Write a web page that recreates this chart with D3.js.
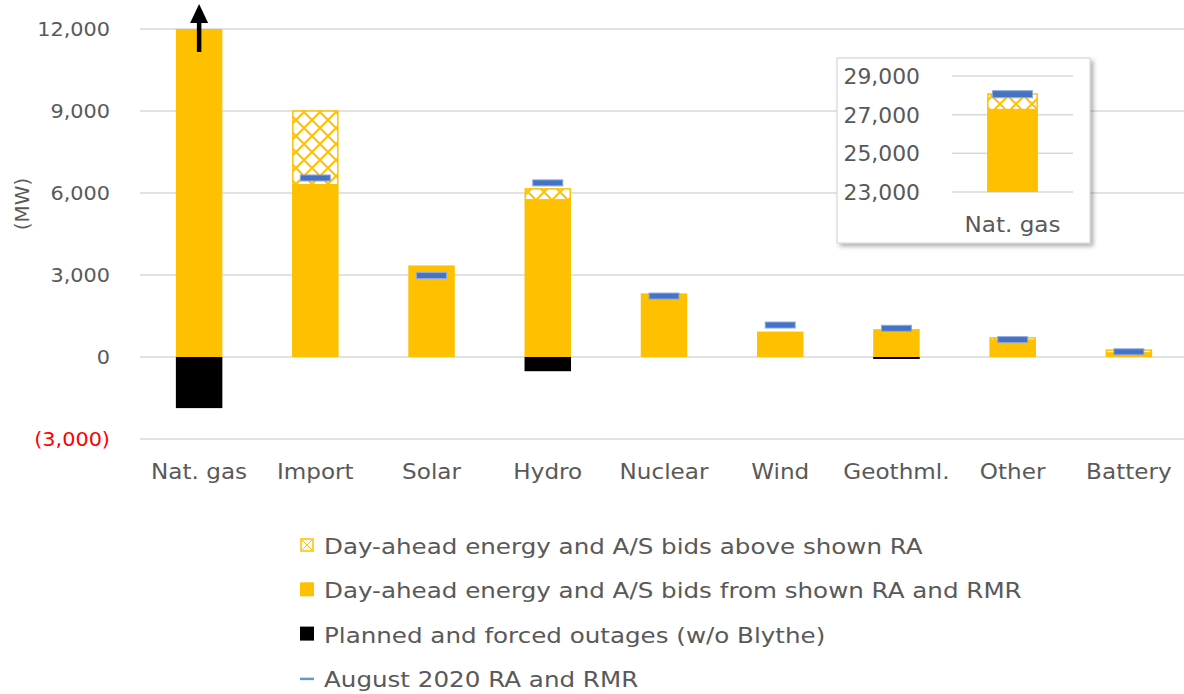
<!DOCTYPE html>
<html>
<head>
<meta charset="utf-8">
<script src="https://cdn.jsdelivr.net/npm/d3@7"></script>
<style>
  body { margin: 0; background: #fff; }
  text { font-family: "DejaVu Sans", sans-serif; fill: #595959; }
</style>
</head>
<body>
<script>
// ---- data (MW) ----
var categories = ["Nat. gas", "Import", "Solar", "Hydro", "Nuclear", "Wind", "Geothml.", "Other", "Battery"];
var shownRA   = [27260, 6300, 3350, 5750, 2250, 930, 1020, 620, 150];   // bids from shown RA and RMR
var aboveRA   = [810, 2700, 0, 400, 50, 0, 0, 80, 100];                 // bids above shown RA
var outages   = [-1870, 0, 0, -520, 0, 0, -60, 0, 0];                   // planned and forced outages
var raRMR     = [28060, 6550, 2980, 6370, 2230, 1170, 1050, 635, 190];  // August 2020 RA and RMR
var yTicks    = [-3000, 0, 3000, 6000, 9000, 12000];
var insetTicks = [23000, 25000, 27000, 29000];
var legendItems = [
  {key: "hatch", label: "Day-ahead energy and A/S bids above shown RA"},
  {key: "solid", label: "Day-ahead energy and A/S bids from shown RA and RMR"},
  {key: "out",   label: "Planned and forced outages (w/o Blythe)"},
  {key: "ra",    label: "August 2020 RA and RMR"}
];

var width = 1184, height = 694;
var yellow = "#FFC000", blue = "#4472C4", grid = "#D9D9D9";

// Century Gothic is wider than anything installed, so stretch text a bit
function widen(sel, k) {
  sel.each(function() {
    var w = this.getComputedTextLength();
    d3.select(this).attr("textLength", w * k).attr("lengthAdjust", "spacingAndGlyphs");
  });
}

var svg = d3.select("body").append("svg")
    .attr("width", width)
    .attr("height", height);

var defs = svg.append("defs");
var pat = defs.append("pattern")
    .attr("id", "hatch")
    .attr("patternUnits", "userSpaceOnUse")
    .attr("width", 16).attr("height", 16);
pat.append("rect").attr("width", 16).attr("height", 16).attr("fill", "#fff");
pat.append("path")
    .attr("d", "M0,0L16,16M16,0L0,16")
    .attr("stroke", yellow).attr("stroke-width", 2);

var filt = defs.append("filter").attr("id", "shadow")
    .attr("x", "-10%").attr("y", "-10%").attr("width", "130%").attr("height", "130%");
filt.append("feDropShadow").attr("dx", 3).attr("dy", 3).attr("stdDeviation", 2)
    .attr("flood-color", "#000").attr("flood-opacity", 0.3);

/* ============================ MAIN CHART ============================ */
var x = d3.scaleBand().domain(categories).range([141, 1187]).paddingInner(0.6).paddingOuter(0.3);
var y = d3.scaleLinear().domain([-3000, 12000]).range([439, 29]);
var yMax = 12000;

svg.append("g").selectAll("line").data(yTicks).enter().append("line")
    .attr("x1", 140).attr("x2", width)
    .attr("y1", d => y(d)).attr("y2", d => y(d))
    .attr("stroke", grid).attr("stroke-width", 1.5);

svg.append("g").selectAll("text").data(yTicks).enter().append("text")
    .attr("x", 110).attr("y", d => y(d) + 7)
    .attr("text-anchor", "end")
    .style("font-size", "20px")
    .style("fill", d => d < 0 ? "#FF0000" : "#595959")
    .text(d => d < 0 ? "(" + d3.format(",")(-d) + ")" : d3.format(",")(d))
    .call(widen, 1.04);

svg.append("text")
    .attr("transform", "translate(29," + y(5600) + ") rotate(-90)")
    .attr("text-anchor", "middle")
    .style("font-size", "20px")
    .text("(MW)");

var bars = svg.append("g");
categories.forEach(function(c, i) {
  var s = Math.min(shownRA[i], yMax);
  bars.append("rect")
      .attr("x", x(c)).attr("width", x.bandwidth())
      .attr("y", y(s)).attr("height", y(0) - y(s))
      .attr("fill", yellow);
  var top = Math.min(shownRA[i] + aboveRA[i], yMax);
  if (top > s) {
    bars.append("rect")
        .attr("x", x(c) + 0.75).attr("width", x.bandwidth() - 1.5)
        .attr("y", y(top)).attr("height", y(s) - y(top))
        .attr("fill", "url(#hatch)")
        .attr("stroke", yellow).attr("stroke-width", 1.5);
  }
  if (outages[i] < 0) {
    bars.append("rect")
        .attr("x", x(c)).attr("width", x.bandwidth())
        .attr("y", y(0)).attr("height", Math.max(2, y(outages[i]) - y(0)))
        .attr("fill", "#000");
  }
  if (raRMR[i] <= yMax) {
    bars.append("rect")
        .attr("x", x(c) + x.bandwidth() / 2 - 15).attr("width", 30)
        .attr("y", y(raRMR[i]) - 3).attr("height", 6)
        .attr("fill", blue).attr("stroke", "#8FAADC").attr("stroke-width", 1);
  }
});

// arrow: nat. gas goes off the scale
var ax = x("Nat. gas") + x.bandwidth() / 2;
svg.append("line")
    .attr("x1", ax).attr("x2", ax)
    .attr("y1", y(11160)).attr("y2", y(12230))
    .attr("stroke", "#000").attr("stroke-width", 4.5);
svg.append("path")
    .attr("d", "M" + (ax - 9) + "," + y(12220) + "L" + ax + "," + (y(12000) - 25) + "L" + (ax + 9) + "," + y(12220) + "Z")
    .attr("fill", "#000");

svg.append("g").selectAll("text").data(categories).enter().append("text")
    .attr("x", d => x(d) + x.bandwidth() / 2)
    .attr("y", 479)
    .attr("text-anchor", "middle")
    .style("font-size", "21px")
    .text(d => d)
    .call(widen, 1.1);

/* ============================ INSET ============================ */
var inset = svg.append("g");
inset.append("rect")
    .attr("x", 837).attr("y", 58).attr("width", 253).attr("height", 185)
    .attr("fill", "#fff").attr("stroke", "#D0D0D0").attr("stroke-width", 1)
    .attr("filter", "url(#shadow)");

var yi = d3.scaleLinear().domain([23000, 29000]).range([192, 76]);
var xi = d3.scaleBand().domain(["Nat. gas"]).range([952, 1073]).paddingInner(0.58).paddingOuter(0.29);

inset.selectAll("line.g").data(insetTicks).enter().append("line")
    .attr("x1", 952).attr("x2", 1073)
    .attr("y1", d => yi(d)).attr("y2", d => yi(d))
    .attr("stroke", grid).attr("stroke-width", 1.5);
inset.selectAll("text.t").data(insetTicks).enter().append("text")
    .attr("x", 920).attr("y", d => yi(d) + 8)
    .attr("text-anchor", "end")
    .style("font-size", "21px")
    .text(d => d3.format(",")(d))
    .call(widen, 1.04);

var ib = xi("Nat. gas"), ibw = xi.bandwidth();
inset.append("rect")
    .attr("x", ib).attr("width", ibw)
    .attr("y", yi(shownRA[0])).attr("height", yi(23000) - yi(shownRA[0]))
    .attr("fill", yellow);
inset.append("rect")
    .attr("x", ib + 0.75).attr("width", ibw - 1.5)
    .attr("y", yi(shownRA[0] + aboveRA[0])).attr("height", yi(shownRA[0]) - yi(shownRA[0] + aboveRA[0]))
    .attr("fill", "url(#hatch)").attr("stroke", yellow).attr("stroke-width", 1.5);
inset.append("rect")
    .attr("x", ib + ibw / 2 - 20).attr("width", 40)
    .attr("y", yi(raRMR[0]) - 3.5).attr("height", 7)
    .attr("fill", blue).attr("stroke", "#8FAADC").attr("stroke-width", 1);
inset.append("text")
    .attr("x", ib + ibw / 2).attr("y", 232)
    .attr("text-anchor", "middle")
    .style("font-size", "21px")
    .text("Nat. gas")
    .call(widen, 1.1);

/* ============================ LEGEND ============================ */
var leg = svg.append("g").selectAll("g").data(legendItems).enter().append("g")
    .attr("transform", (d, i) => "translate(300," + (546 + i * 44.3) + ")");
leg.each(function(d) {
  var g = d3.select(this);
  if (d.key === "hatch") {
    g.append("rect").attr("x", 1).attr("y", -7).attr("width", 12).attr("height", 12)
        .attr("fill", "#fff").attr("stroke", yellow).attr("stroke-width", 1.5);
    g.append("path").attr("d", "M2,-6L12,4M12,-6L2,4").attr("stroke", yellow).attr("stroke-width", 1);
  } else if (d.key === "solid") {
    g.append("rect").attr("x", 0).attr("y", -8).attr("width", 14).attr("height", 14).attr("fill", yellow);
  } else if (d.key === "out") {
    g.append("rect").attr("x", 0).attr("y", -8).attr("width", 14).attr("height", 14).attr("fill", "#000");
  } else {
    g.append("line").attr("x1", 0).attr("x2", 14).attr("y1", 0).attr("y2", 0)
        .attr("stroke", "#5B9BD5").attr("stroke-width", 2.5);
  }
  g.append("text").attr("x", 24).attr("y", 8)
      .style("font-size", "21px")
      .text(d.label)
      .call(widen, 1.17);
});
</script>
</body>
</html>
